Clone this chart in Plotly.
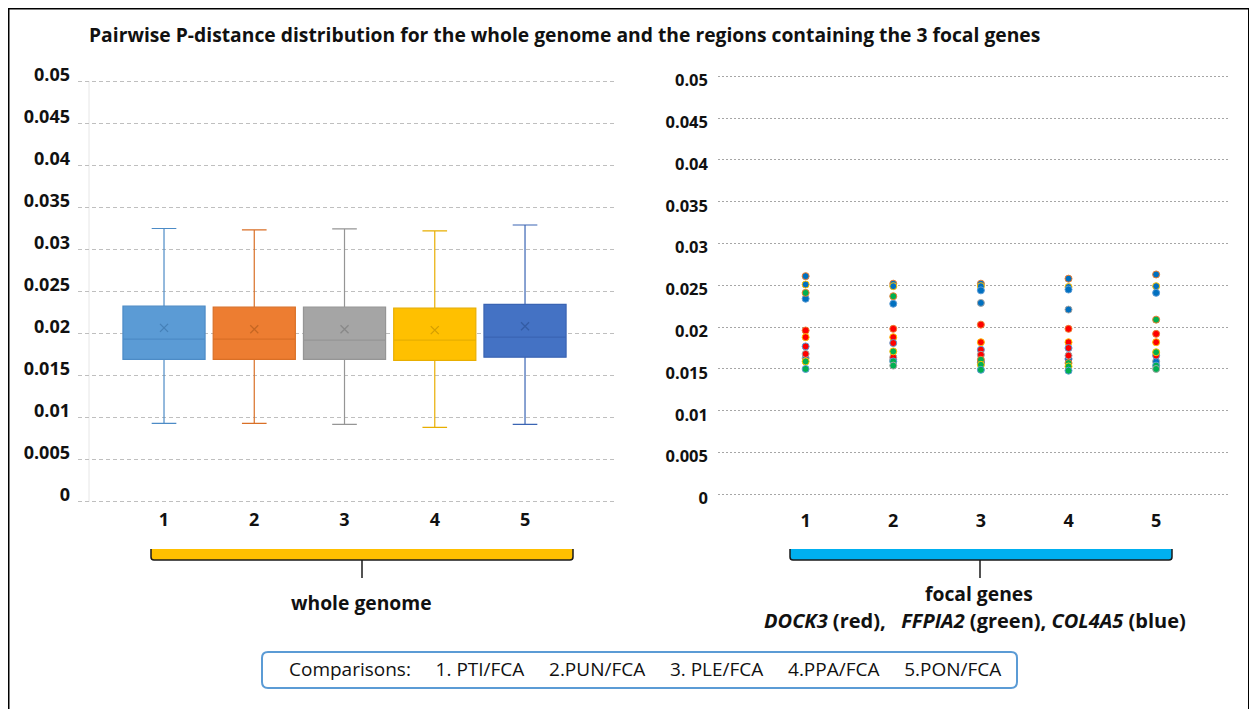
import plotly.graph_objects as go

# ---------------- data ----------------
categories = [1, 2, 3, 4, 5]
tick_labels = ["1", "2", "3", "4", "5"]
y_ticks = [0, 0.005, 0.01, 0.015, 0.02, 0.025, 0.03, 0.035, 0.04, 0.045, 0.05]
y_tick_labels = ["0", "0.005", "0.01", "0.015", "0.02", "0.025", "0.03", "0.035", "0.04", "0.045", "0.05"]

# whole genome box statistics
wg_low = [0.00933, 0.00933, 0.00922, 0.00886, 0.00922]
wg_q1 = [0.01694, 0.01694, 0.01694, 0.01682, 0.01721]
wg_median = [0.01935, 0.01935, 0.01923, 0.01923, 0.01958]
wg_q3 = [0.02327, 0.02315, 0.02315, 0.02303, 0.02347]
wg_high = [0.0325, 0.03233, 0.03245, 0.03221, 0.03292]
wg_mean = [0.02069, 0.02053, 0.02053, 0.02042, 0.02089]

# focal genes p-distances per comparison
dock3 = [[0.0196, 0.0188, 0.0177, 0.0168],
         [0.0198, 0.0188, 0.0181, 0.0164],
         [0.0203, 0.0182, 0.0173, 0.0167],
         [0.0198, 0.0182, 0.0175, 0.0166],
         [0.0192, 0.0182, 0.0166]]
ffpia2 = [[0.0241, 0.0159, 0.0150],
          [0.0237, 0.0171, 0.0159, 0.0154],
          [0.0161, 0.0155, 0.0149],
          [0.0157, 0.0153, 0.0148],
          [0.0209, 0.0170, 0.0154, 0.0150]]
col4a5 = [[0.0261, 0.0251, 0.0234, 0.0163],
          [0.0252, 0.0249, 0.0228, 0.0161],
          [0.0252, 0.0249, 0.0244, 0.0229, 0.0158],
          [0.0258, 0.0248, 0.0245, 0.0221, 0.0162],
          [0.0263, 0.0249, 0.0241, 0.0159]]

# ---------------- style ----------------
OFF = 8                      # page body margin
W, H = 1257 - OFF, 709 - OFF
FONT = "Open Sans"
box_fill = ["#5B9BD5", "#ED7D31", "#A5A5A5", "#FFC000", "#4472C4"]
box_line = ["#4C8BC6", "#D96F26", "#959595", "#E8AE00", "#3A64B3"]
mean_col = ["#3F78AE", "#B9601F", "#7F7F7F", "#C79400", "#2F559B"]
outline_cycle = ["#ED7D31", "#FFC000", "#5B9BD5", "#A5A5A5", "#4472C4"]


def px(x):
    return (x - OFF) / W


def py(y):
    return 1 - (y - OFF) / H


fig = go.Figure()

# box plots
for i, c in enumerate(categories):
    fig.add_trace(go.Box(
        x=[c], q1=[wg_q1[i]], median=[wg_median[i]], q3=[wg_q3[i]],
        lowerfence=[wg_low[i]], upperfence=[wg_high[i]],
        fillcolor=box_fill[i], line=dict(color=box_line[i], width=1.2),
        width=0.91, whiskerwidth=0.3, boxpoints=False,
        xaxis="x", yaxis="y", showlegend=False, hoverinfo="skip"))
fig.add_trace(go.Scatter(
    x=categories, y=wg_mean, mode="markers",
    marker=dict(symbol="x-thin", size=8, line=dict(width=1.3, color=mean_col)),
    opacity=0.75, xaxis="x", yaxis="y", showlegend=False, hoverinfo="skip"))

# focal gene dots
for vals, col in [(col4a5, "#0070C0"), (dock3, "#FF0000"), (ffpia2, "#00B050")]:
    xs, ys, oc = [], [], []
    for c, lst in zip(categories, vals):
        for j, v in enumerate(lst):
            xs.append(c)
            ys.append(v)
            oc.append(outline_cycle[j % len(outline_cycle)])
    fig.add_trace(go.Scatter(
        x=xs, y=ys, mode="markers",
        marker=dict(size=7, color=col, line=dict(width=1, color=oc)),
        xaxis="x2", yaxis="y2", showlegend=False, hoverinfo="skip"))

tickfont_yl = dict(family=FONT, size=18, color="#111111", weight="bold")
tickfont_yr = dict(family=FONT, size=16.5, color="#111111", weight="bold")
tickfont_x = dict(family=FONT, size=18, color="#111111", weight="bold")
E = 0.0003
# left plot: gridlines 0.05 at y=81.3px, 0 at 501.9px ; right: 76.3px / 494.4px
lk = (501.9 - 81.3) / 0.05
rk = (494.4 - 76.3) / 0.05

fig.update_layout(
    width=W, height=H, autosize=False,
    margin=dict(l=0, r=0, t=0, b=0, autoexpand=False),
    paper_bgcolor="white", plot_bgcolor="white",
    font=dict(family=FONT),
    xaxis=dict(domain=[px(78), px(615)], range=[0.047, 5.997], anchor="y",
               tickvals=categories, ticktext=tick_labels, showgrid=False,
               zeroline=False, showline=False, ticks="", tickfont=tickfont_x,
               ticklabelstandoff=int(round(6 - E * lk))),
    yaxis=dict(domain=[py(501.9 + E * lk), py(81.3 - E * lk)], range=[-E, 0.05 + E], anchor="x",
               tickvals=y_ticks, ticktext=y_tick_labels, showgrid=True,
               gridcolor="#BFBFBF", griddash="4px,3px", gridwidth=1.3,
               zeroline=False, showline=False, ticks="", tickfont=tickfont_yl,
               ticklabelstandoff=7, ticklabelshift=-7),
    xaxis2=dict(domain=[px(718), px(1228)], range=[0, 5.82], anchor="y2",
                tickvals=categories, ticktext=tick_labels, showgrid=False,
                zeroline=False, showline=False, ticks="", tickfont=tickfont_x,
                ticklabelstandoff=int(round(14 - E * rk))),
    yaxis2=dict(domain=[py(494.4 + E * rk), py(76.3 - E * rk)], range=[-E, 0.05 + E], anchor="x2",
                tickvals=y_ticks, ticktext=y_tick_labels, showgrid=True,
                gridcolor="#A6A6A6", griddash="2px,2px", gridwidth=1.3,
                zeroline=False, showline=False, ticks="", tickfont=tickfont_yr,
                ticklabelstandoff=9, ticklabelshift=4),
)

shapes = []
# outer frame
shapes.append(dict(type="rect", xref="paper", yref="paper",
                   x0=px(8.5), y0=py(730), x1=px(1249), y1=py(8.5),
                   line=dict(color="black", width=2), fillcolor="rgba(0,0,0,0)", layer="below"))
# faint vertical axis line of the left chart
shapes.append(dict(type="line", xref="paper", yref="paper",
                   x0=px(89), x1=px(89), y0=py(502), y1=py(81),
                   line=dict(color="#E6E6E6", width=1), layer="below"))


def bracket(x0, x1, xm, color):
    yt, yb, ytick = 549, 560, 578
    out = []
    out.append(dict(type="rect", xref="paper", yref="paper",
                    x0=px(x0), x1=px(x1), y0=py(yb), y1=py(yt),
                    fillcolor=color, line=dict(width=0)))
    path = (f"M {px(x0)},{py(yt)} L {px(x0)},{py(yb-3)} Q {px(x0)},{py(yb)} {px(x0+3)},{py(yb)} "
            f"L {px(x1-3)},{py(yb)} Q {px(x1)},{py(yb)} {px(x1)},{py(yb-3)} L {px(x1)},{py(yt)}")
    out.append(dict(type="path", xref="paper", yref="paper", path=path,
                    line=dict(color="#1a1a1a", width=1.5)))
    out.append(dict(type="line", xref="paper", yref="paper",
                    x0=px(xm), x1=px(xm), y0=py(yb), y1=py(ytick),
                    line=dict(color="#1a1a1a", width=1.5)))
    return out


shapes += bracket(151, 573, 362, "#FFC000")
shapes += bracket(790, 1172, 980, "#00B0F0")

# comparison legend box (rounded)
lx0, lx1, ly0, ly1, r = 262, 1017, 652, 688, 6
lpath = (f"M {px(lx0+r)},{py(ly0)} L {px(lx1-r)},{py(ly0)} Q {px(lx1)},{py(ly0)} {px(lx1)},{py(ly0+r)} "
         f"L {px(lx1)},{py(ly1-r)} Q {px(lx1)},{py(ly1)} {px(lx1-r)},{py(ly1)} "
         f"L {px(lx0+r)},{py(ly1)} Q {px(lx0)},{py(ly1)} {px(lx0)},{py(ly1-r)} "
         f"L {px(lx0)},{py(ly0+r)} Q {px(lx0)},{py(ly0)} {px(lx0+r)},{py(ly0)} Z")
shapes.append(dict(type="path", xref="paper", yref="paper", path=lpath,
                   line=dict(color="#5B9BD5", width=2)))
fig.update_layout(shapes=shapes)

nb = "\u00a0"
sep = nb * 5
annotations = [
    dict(text="Pairwise P-distance distribution for the whole genome and the regions containing the 3 focal genes",
         x=px(87), y=py(35), xanchor="left", yanchor="middle",
         font=dict(family=FONT, size=19.3, color="#111111", weight="bold")),
    dict(text="whole genome", x=px(362), y=py(602), xanchor="center", yanchor="middle",
         font=dict(family=FONT, size=19.3, color="#111111", weight="bold")),
    dict(text="focal genes", x=px(979), y=py(593), xanchor="center", yanchor="middle",
         font=dict(family=FONT, size=19.3, color="#111111", weight="bold")),
    dict(text=f"<i>DOCK3</i> (red),{nb}{nb}{nb}<i>FFPIA2</i> (green),{nb}<i>COL4A5</i> (blue)",
         x=px(975), y=py(620), xanchor="center", yanchor="middle",
         font=dict(family=FONT, size=20, color="#111111", weight="bold")),
    dict(text=f"Comparisons:{nb * 5}1. PTI/FCA{sep}2.PUN/FCA{sep}3. PLE/FCA{sep}4.PPA/FCA{sep}5.PON/FCA",
         x=px(645), y=py(669), xanchor="center", yanchor="middle",
         font=dict(family=FONT, size=19, color="#111111")),
]
for a in annotations:
    a.update(xref="paper", yref="paper", showarrow=False)
fig.update_layout(annotations=annotations)

fig.write_html("out.html")
